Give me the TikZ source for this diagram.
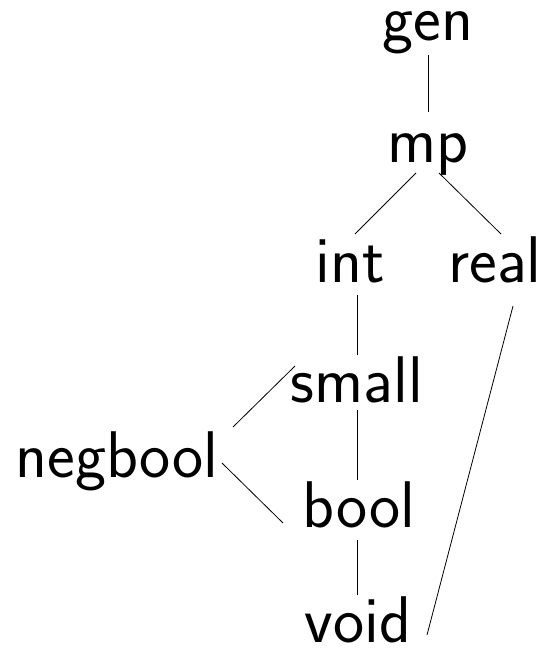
\documentclass[tikz,border=0pt]{standalone}
\usepackage{tikz}

\begin{document}
\begin{tikzpicture}[%
  x=1pt, y=1pt,
  type/.style={inner sep=0pt, anchor=base, font=\fontsize{66}{72}\selectfont\sffamily},
  link/.style={line width=0.8pt}]
\useasboundingbox (0,0) rectangle (545,-648);
% types
\node[type] (gen)     at (428,-40)  {gen};
\node[type] (mp)      at (428,-162) {mp};
\node[type] (int)     at (350,-282) {int};
\node[type] (real)    at (495,-282) {real};
\node[type] (small)   at (357,-402) {small};
\node[type] (negbool) at (117,-477) {negbool};
\node[type] (bool)    at (359,-527) {bool};
\node[type] (void)    at (358,-642) {void};
% order
\draw[link] ([shift={(0pt,-15pt)}]gen.base)    -- ([shift={(0pt,50pt)}]mp.base);
\draw[link] ([shift={(-12pt,-11pt)}]mp.base)   -- ([shift={(5pt,48pt)}]int.base);
\draw[link] ([shift={(11pt,-11pt)}]mp.base)    -- ([shift={(6pt,48pt)}]real.base);
\draw[link] ([shift={(7pt,-13pt)}]int.base)    -- ([shift={(0pt,47pt)}]small.base);
\draw[link] ([shift={(0pt,-8pt)}]small.base)   -- ([shift={(-2pt,47pt)}]bool.base);
\draw[link] ([shift={(-2pt,-13pt)}]bool.base)  -- ([shift={(-1pt,47pt)}]void.base);
\draw[link] ([shift={(116pt,50pt)}]negbool.base) -- ([shift={(-62pt,36pt)}]small.base);
\draw[link] ([shift={(105pt,14pt)}]negbool.base) -- ([shift={(-76pt,4pt)}]bool.base);
\draw[link] ([shift={(18pt,-24pt)}]real.base)  -- ([shift={(69pt,7pt)}]void.base);
\end{tikzpicture}
\end{document}
